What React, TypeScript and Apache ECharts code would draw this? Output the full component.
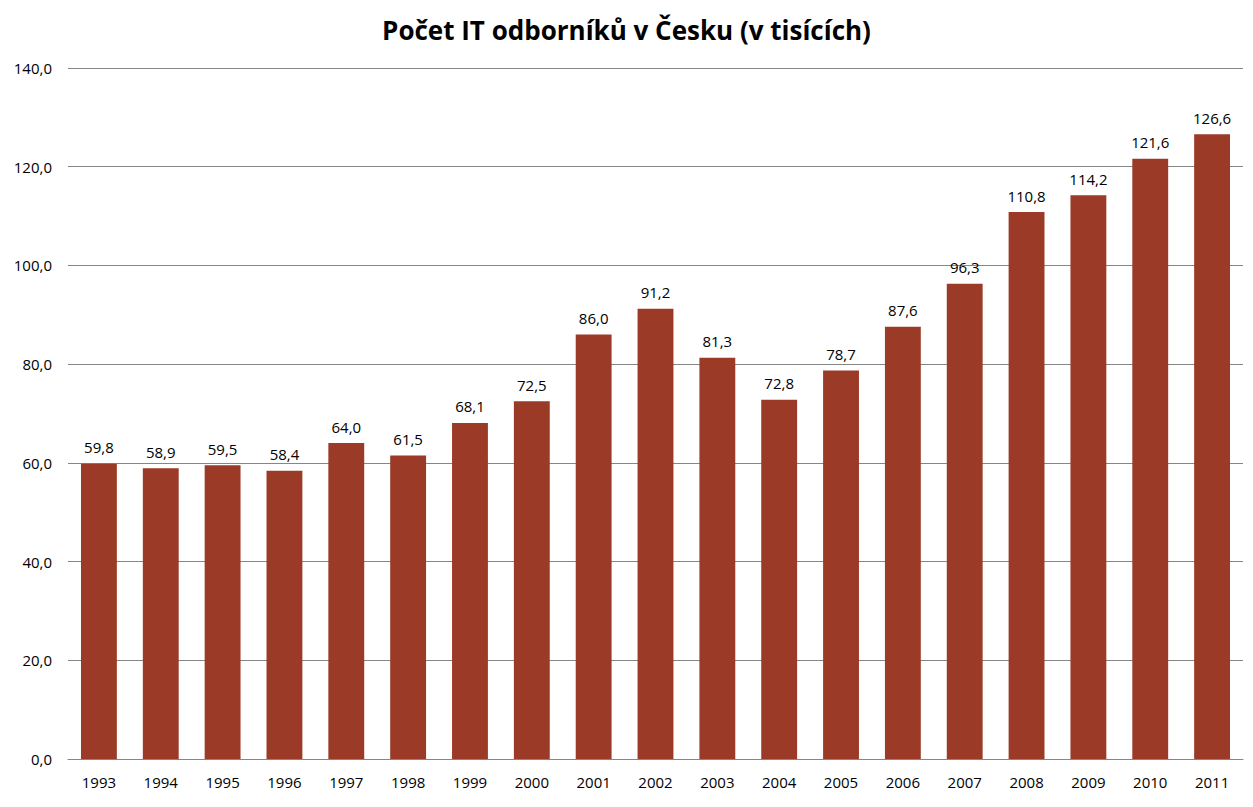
import { useEffect, useRef } from 'react'
import * as echarts from 'echarts'

// data
const years = ['1993', '1994', '1995', '1996', '1997', '1998', '1999', '2000', '2001', '2002',
  '2003', '2004', '2005', '2006', '2007', '2008', '2009', '2010', '2011']
const experts = [59.8, 58.9, 59.5, 58.4, 64.0, 61.5, 68.1, 72.5, 86.0, 91.2,
  81.3, 72.8, 78.7, 87.6, 96.3, 110.8, 114.2, 121.6, 126.6]

const FONT = '"Open Sans", "DejaVu Sans", sans-serif'
const fmt = (v: number) => v.toFixed(1).replace('.', ',')

export default function App() {
  const ref = useRef<HTMLDivElement>(null)

  useEffect(() => {
    if (!ref.current) return
    const chart = echarts.init(ref.current, null, { renderer: 'svg' })
    chart.setOption({
      animation: false,
      backgroundColor: '#fff',
      title: {
        text: 'Počet IT odborníků v Česku (v tisících)',
        left: 'center',
        top: 12,
        textStyle: { fontFamily: FONT, fontSize: 26, fontWeight: 'bold', color: '#000' },
      },
      grid: { left: 68, right: 10, top: 68, bottom: 48 },
      xAxis: {
        type: 'category',
        data: years,
        axisLine: { lineStyle: { color: '#868686' } },
        axisTick: { show: false },
        axisLabel: { fontFamily: FONT, fontSize: 15, color: '#000', margin: 15 },
      },
      yAxis: {
        type: 'value',
        min: 0,
        max: 140,
        interval: 20,
        axisLabel: { fontFamily: FONT, fontSize: 15, color: '#000', margin: 16, formatter: fmt },
        splitLine: { lineStyle: { color: '#868686' } },
      },
      series: [{
        type: 'bar',
        data: experts,
        barWidth: '58%',
        itemStyle: { color: '#9b3a26' },
        label: {
          show: true,
          position: 'top',
          distance: 9,
          fontFamily: FONT,
          fontSize: 15,
          color: '#000',
          formatter: (p: any) => fmt(p.value),
        },
      }],
    })
    return () => chart.dispose()
  }, [])

  return (
    <div
      ref={ref}
      style={{ position: 'absolute', left: 0, top: 0, width: 1253, height: 807 }}
    />
  )
}
